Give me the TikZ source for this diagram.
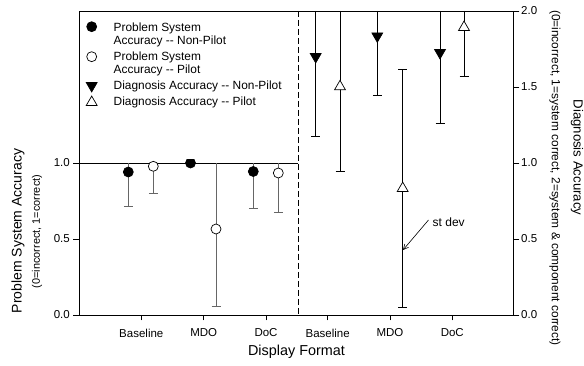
\documentclass[tikz,border=0pt]{standalone}
\usepackage{fontspec}
\setmainfont{Liberation Sans}[Ligatures=TeXOff]
\usetikzlibrary{shapes.geometric,arrows.meta}

\begin{document}
\begin{tikzpicture}[x=1pt,y=-1pt,
  axis/.style={line width=0.9pt,line cap=rect},
  bar/.style={line width=0.9pt,draw=black},
  greybar/.style={bar,draw=black!60},
  mk/.style={inner sep=0pt,line width=0.7pt,draw=black},
  fillcirc/.style={mk,circle,fill=black,minimum size=10pt},
  opencirc/.style={mk,circle,fill=white,minimum size=10pt},
  downtri/.style={mk,regular polygon,regular polygon sides=3,shape border rotate=180,fill=black,minimum size=12.5pt},
  uptri/.style={mk,regular polygon,regular polygon sides=3,fill=white,minimum size=12.5pt},
  ticklbl/.style={font=\fontsize{11.5}{13}\selectfont,inner sep=0pt},
  leglbl/.style={font=\fontsize{11.9}{13.4}\selectfont,inner sep=0pt,anchor=west,align=left},
]
\useasboundingbox (0,0) rectangle (584,366);

% frame, panel divider and the 1.0 line of the left panel
\draw[axis] (79,11) rectangle (513,315);
\draw[axis] (513,11) -- (519,11);
\draw[line width=0.9pt] (79,163) -- (298,163);
\draw[line width=0.8pt,dash pattern=on 6pt off 3pt] (298,11) -- (298,315);

% left axis ticks and labels
\foreach \y/\t in {163/1.0,239/0.5,315/0.0}{
  \draw[axis] (73,\y) -- (79,\y);
  \node[ticklbl,anchor=east] (l\t) at (70,\y) {\t};
}
% right axis ticks and labels
\foreach \y/\t in {11/2.0,87/1.5,163/1.0,239/0.5,315/0.0}{
  \draw[axis] (513,\y) -- (519,\y);
  \node[ticklbl,anchor=west] (r\t) at (521,\y) {\t};
}
% category ticks and labels
\foreach \x/\t/\n in {141.3/Baseline/a,203.7/MDO/b,266/DoC/c,327.7/Baseline/d,390/MDO/e,452.3/DoC/f}{
  \draw[axis] (\x,315) -- (\x,320);
  \node[ticklbl] (cat\n) at (\x,333) {\t};
}

% axis titles
\node[font=\fontsize{14.4}{16}\selectfont] (xtitle) at (296.5,352) {Display Format};
\node[font=\fontsize{14}{16}\selectfont,rotate=90] (ltitle) at (18,231) {Problem System Accuracy};
\node[font=\fontsize{10.9}{12}\selectfont,rotate=90] (lsub) at (37,231.5) {(0=incorrect, 1=correct)};
\node[font=\fontsize{13.2}{15}\selectfont,rotate=-90] (rtitle) at (577,157.5) {Diagnosis Accuracy};
\node[font=\fontsize{11.9}{13}\selectfont,rotate=-90] (rsub) at (555,178) {(0=incorrect, 1=system correct, 2=system \& component correct)};

% ---- left panel: problem system accuracy ----
% x / marker y / bar top / bar bottom (cap)
\foreach \x/\b in {128.3/206.7,153.3/193.8,216/306.7,253.3/208.3,278.3/212}{
  \draw[greybar] (\x,163) -- (\x,\b);
  \draw[greybar] (\x-4.5,\b) -- (\x+4.5,\b);
}
\node[fillcirc] (psBaseNP) at (128.3,172) {};
\node[opencirc] (psBaseP) at (153.3,166.3) {};
\begin{scope}
  \clip (150,159.5) rectangle (230,200);
  \node[fillcirc] (psMdoNP) at (190.5,163) {};
\end{scope}
\node[opencirc] (psMdoP) at (216,229) {};
\node[fillcirc] (psDocNP) at (253.3,171.5) {};
\node[opencirc] (psDocP) at (278.3,173) {};

% ---- right panel: diagnosis accuracy ----
\foreach \x/\b in {315.7/136.7,340/171.7,377.3/95,440/123.3,464/76.7}{
  \draw[bar] (\x,11) -- (\x,\b);
  \draw[bar] (\x-4.5,\b) -- (\x+4.5,\b);
}
\draw[bar] (402.7,69.3) -- (402.7,307.3);
\draw[bar] (398.2,69.3) -- (407.2,69.3);
\draw[bar] (398.2,307.3) -- (407.2,307.3);

\node[downtri] (daBaseNP) at (315.7,56.7) {};
\node[uptri] (daBaseP) at (340,86.6) {};
\node[downtri] (daMdoNP) at (377.3,36.1) {};
\node[uptri] (daMdoP) at (402.7,188.3) {};
\node[downtri] (daDocNP) at (440,52.7) {};
\node[uptri] (daDocP) at (464,27.3) {};

% standard deviation note
\coordinate (sdpoint) at (403,250);
\node[font=\fontsize{12}{14}\selectfont,inner sep=0pt,anchor=west] (sdlabel) at (432.5,222) {st dev};
\draw[line width=0.6pt,-{Straight Barb[length=5pt,width=5pt]}] (428.5,220) -- (sdpoint);

% ---- legend ----
\node[fillcirc] (legA) at (91.7,26.7) {};
\node[leglbl] (legAt) at (113.5,35) {Problem System\\Accuracy -- Non-Pilot};
\node[opencirc] (legB) at (91.7,56.7) {};
\node[leglbl] (legBt) at (113.5,63.7) {Problem System\\Accuracy -- Pilot};
\node[downtri] (legC) at (91.7,85.7) {};
\node[leglbl] (legCt) at (113.5,86.7) {Diagnosis Accuracy -- Non-Pilot};
\node[uptri] (legD) at (91.7,102.3) {};
\node[leglbl] (legDt) at (113.5,102.7) {Diagnosis Accuracy -- Pilot};
\end{tikzpicture}
\end{document}
